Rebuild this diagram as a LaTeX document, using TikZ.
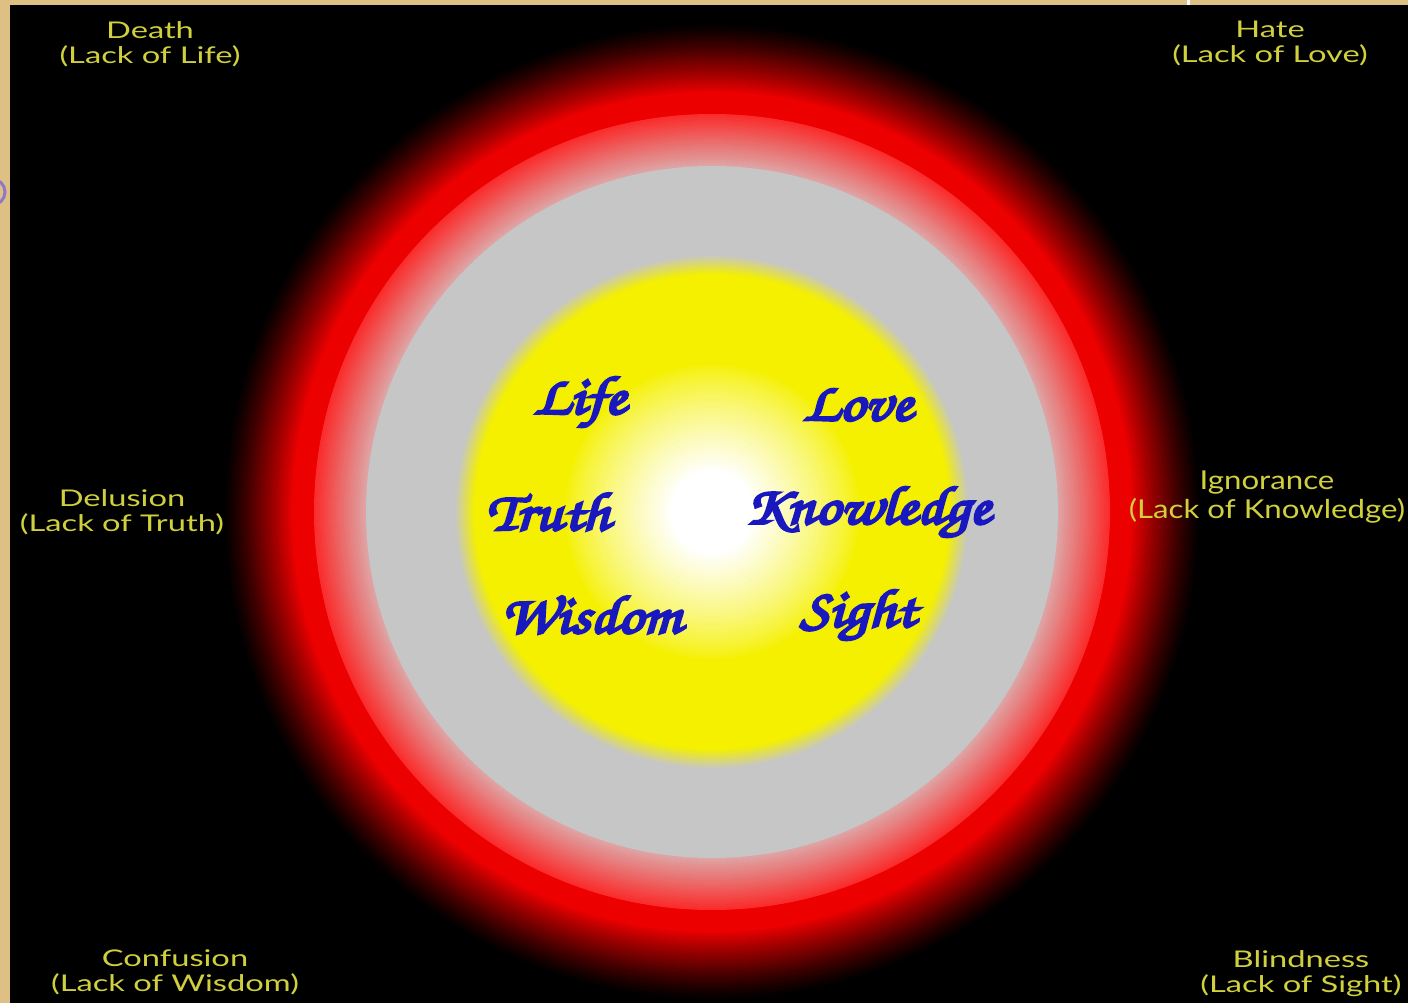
\documentclass[tikz,border=0pt]{standalone}
\usepackage{fontspec}
\setmainfont{Lato}
\newfontfamily\lackf[FakeStretch=1.42]{Lato}
\newfontfamily\lackbigf[FakeStretch=1.2]{Lato}
\newfontfamily\scriptf[AutoFakeBold=5,FakeStretch=1.15]{TeX Gyre Chorus}
\definecolor{tanc}{RGB}{222,192,132}
\definecolor{redc}{RGB}{236,0,0}
\definecolor{redlight}{RGB}{250,45,45}
\definecolor{pinkc}{RGB}{222,168,168}
\definecolor{grayc}{RGB}{198,198,198}
\definecolor{yellowc}{RGB}{244,240,0}
\definecolor{lackc}{RGB}{208,208,62}
\definecolor{bluec}{RGB}{24,24,190}
\definecolor{buttonc}{RGB}{140,120,200}
\tikzset{
  lack/.style={text=lackc, align=center, inner sep=0pt, font=\lackf\fontsize{23}{25}\selectfont},
  lackbig/.style={lack, font=\lackbigf\fontsize{26}{29}\selectfont},
  virtue/.style={text=bluec, inner sep=0pt, font=\scriptf\bfseries\fontsize{54}{54}\selectfont},
}
\begin{document}
\begin{tikzpicture}[x=1pt,y=-1pt]
\useasboundingbox (0,0) rectangle (1408,1003);
\fill[tanc] (0,0) rectangle (1408,1003);
\fill[black] (10,5) rectangle (1408,1003);
\fill[white] (1187,0) rectangle (1190,5);
\draw[buttonc, line width=3pt] (-8,192) circle[radius=13pt];
\coordinate (C) at (712,512);
% outer dark fade to red
\foreach \i in {0,...,35} {
  \pgfmathsetmacro\r{490-2*\i}
  \pgfmathtruncatemacro\p{100*(\i/35)^1.2}
  \fill[redc!\p!black] (C) circle[radius=\r pt];
}
\fill[redc] (C) circle[radius=420pt];
% pink fade
\foreach \i in {0,...,26} {
  \pgfmathsetmacro\r{398-2*\i}
  \pgfmathtruncatemacro\p{100*\i/26}
  \fill[pinkc!\p!redlight] (C) circle[radius=\r pt];
}
\fill[grayc] (C) circle[radius=346pt];
% gray to yellow
\foreach \i in {0,...,10} {
  \pgfmathsetmacro\r{258-2*\i}
  \pgfmathtruncatemacro\p{100*\i/10}
  \fill[yellowc!\p!grayc] (C) circle[radius=\r pt];
}
\fill[yellowc] (C) circle[radius=237pt];
% white glow
\foreach \i in {0,...,40} {
  \pgfmathsetmacro\r{150-2.7*\i}
  \pgfmathtruncatemacro\p{100*(\i/40)^0.8}
  \fill[white!\p!yellowc] (C) circle[radius=\r pt];
}
% outer labels
\node[lack] (death) at (150,44) {Death\\(Lack of Life)};
\node[lack] (hate) at (1270,43) {Hate\\(Lack of Love)};
\node[lack] (delusion) at (122,512) {Delusion\\(Lack of Truth)};
\node[lackbig] (ignorance) at (1267,497) {Ignorance\\(Lack of Knowledge)};
\node[lack] (confusion) at (175,972) {Confusion\\(Lack of Wisdom)};
\node[lack] (blindness) at (1301,974) {Blindness\\(Lack of Sight)};
% inner words
\node[virtue] (life) at (580,402) {Life};
\node[virtue] (love) at (858,405) {Love};
\node[virtue] (truth) at (548,512) {Truth};
\node[virtue] (knowledge) at (868,512) {Knowledge};
\node[virtue] (wisdom) at (591,615) {Wisdom};
\node[virtue] (sight) at (858,615) {Sight};
\end{tikzpicture}
\end{document}
